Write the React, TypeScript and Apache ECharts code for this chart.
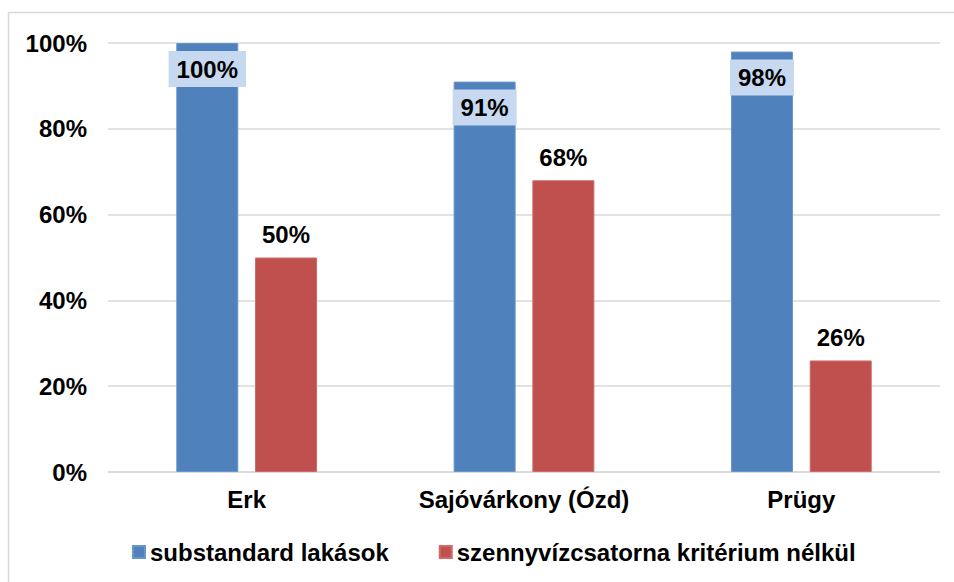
import React, { useEffect, useRef } from "react";
import * as echarts from "echarts";

const categories = ["Erk", "Sajóvárkony (Ózd)", "Prügy"];
const substandard = [100, 91, 98];
const sewer = [50, 68, 26];
const seriesNames = ["substandard lakások", "szennyvízcsatorna kritérium nélkül"];

const FONT = "'Liberation Sans', Arial, sans-serif";

export default function App() {
  const ref = useRef<HTMLDivElement>(null);
  useEffect(() => {
    if (!ref.current) return;
    const chart = echarts.init(ref.current, null, { renderer: "svg" });
    chart.setOption({
      animation: false,
      backgroundColor: "#ffffff",
      textStyle: { fontFamily: FONT },
      graphic: [
        {
          type: "rect",
          shape: { x: 8.5, y: 12.5, width: 1000, height: 1000 },
          style: { fill: "none", stroke: "#d9d9d9", lineWidth: 1.5 },
          silent: true,
          z: -1,
        },
      ],
      grid: { left: 108, right: 14, top: 43, bottom: 110, containLabel: false },
      legend: {
        left: 132,
        top: 540,
        padding: 0,
        itemWidth: 12,
        itemHeight: 12,
        itemGap: 50,
        icon: "rect",
        textStyle: { fontFamily: FONT, fontSize: 24, fontWeight: "bold", color: "#000" },
        data: seriesNames,
      },
      xAxis: {
        type: "category",
        data: categories,
        axisLine: { lineStyle: { color: "#d9d9d9", width: 1.5 } },
        axisTick: { show: false },
        axisLabel: { margin: 15, fontFamily: FONT, fontSize: 24, fontWeight: "bold", color: "#000" },
      },
      yAxis: {
        type: "value",
        min: 0,
        max: 100,
        interval: 20,
        axisLine: { show: false },
        axisTick: { show: false },
        splitLine: { lineStyle: { color: "#d9d9d9", width: 1.5 } },
        axisLabel: { margin: 21, formatter: "{value}%", fontFamily: FONT, fontSize: 24, fontWeight: "bold", color: "#000" },
      },
      series: [
        {
          name: seriesNames[0],
          type: "bar",
          data: substandard,
          barWidth: 62,
          barGap: "27%",
          itemStyle: { color: "#4F81BD", borderColor: "#6a95c9", borderWidth: 1 },
          label: {
            show: true,
            position: "insideTop",
            distance: 8,
            formatter: "{c}%",
            fontFamily: FONT,
            fontSize: 24,
            lineHeight: 24,
            fontWeight: "bold",
            color: "#000",
            backgroundColor: "#C6D9F1",
            padding: [6, 8],
          },
        },
        {
          name: seriesNames[1],
          type: "bar",
          data: sewer,
          barWidth: 62,
          itemStyle: { color: "#C0504D", borderColor: "#cc6b68", borderWidth: 1 },
          label: {
            show: true,
            position: "top",
            distance: 11,
            formatter: "{c}%",
            fontFamily: FONT,
            fontSize: 24,
            fontWeight: "bold",
            color: "#000",
          },
        },
      ],
    });
    return () => chart.dispose();
  }, []);
  return (
    <div
      ref={ref}
      style={{ position: "fixed", left: 0, top: 0, width: 954, height: 582 }}
    />
  );
}
